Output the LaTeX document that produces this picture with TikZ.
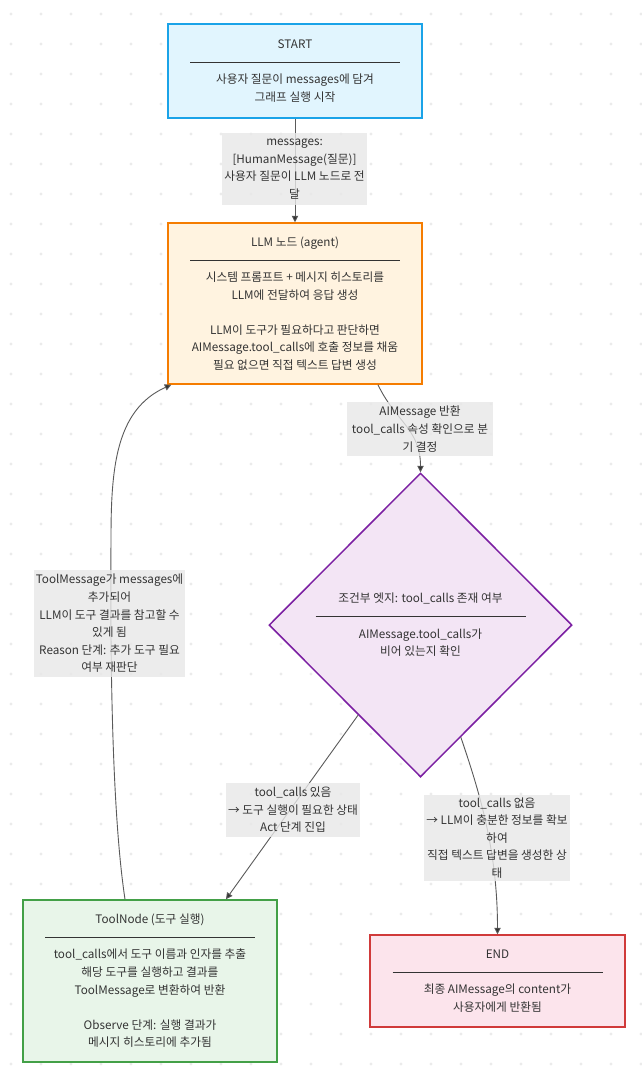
\documentclass[tikz,border=0pt]{standalone}
\usepackage{fontspec}
\setmainfont{Noto Sans CJK KR}
\usetikzlibrary{shapes.geometric,arrows.meta,calc}
\definecolor{txt}{HTML}{333333}
\definecolor{dotc}{HTML}{EBEBEB}
\definecolor{edgec}{HTML}{5A5A5A}
\definecolor{lblbg}{HTML}{E8E8E8}
\definecolor{startfill}{HTML}{E1F5FE}
\definecolor{startline}{HTML}{1AA3E8}
\definecolor{llmfill}{HTML}{FFF3E0}
\definecolor{llmline}{HTML}{F57C00}
\definecolor{diafill}{HTML}{F3E5F5}
\definecolor{dialine}{HTML}{7B1FA2}
\definecolor{toolfill}{HTML}{E8F5E9}
\definecolor{toolline}{HTML}{43A047}
\definecolor{endfill}{HTML}{FCE4EC}
\definecolor{endline}{HTML}{D03A3A}
\newcommand\divline{\rule[3.5pt]{210pt}{0.7pt}}
\tikzset{
  basefont/.style={font=\fontsize{11.7}{17.6}\selectfont},
  box/.style={basefont, draw, line width=1.5pt, align=center, text=txt, inner sep=0pt},
  lbl/.style={basefont, fill=lblbg, fill opacity=0.8, text opacity=1, align=center, inner sep=2pt, text=txt},
  conn/.style={draw=edgec, line width=0.9pt, -{Triangle[length=6.5pt,width=6.5pt,fill=txt]}},
}
\begin{document}
\begin{tikzpicture}[x=1pt,y=-1pt]
\useasboundingbox[fill=white] (0,0) rectangle (641,1082);
\foreach \i in {0,...,21}{\foreach \j in {0,...,35}{\fill[dotc] (11+30*\i,14+30*\j) circle (1.6pt);}}

\node[box, fill=startfill, draw=startline, minimum width=254pt, minimum height=94pt] (start) at (295,71)
  {START\\\divline\\사용자 질문이 messages에 담겨\\그래프 실행 시작};
\node[box, fill=llmfill, draw=llmline, minimum width=254pt, minimum height=161pt] (llm) at (295,303.5)
  {LLM 노드 (agent)\\\divline\\시스템 프롬프트 + 메시지 히스토리를\\LLM에 전달하여 응답 생성\\[17.6pt]LLM이 도구가 필요하다고 판단하면\\AIMessage.tool\_calls에 호출 정보를 채움\\필요 없으면 직접 텍스트 답변 생성};
\node[box, diamond, fill=diafill, draw=dialine, minimum width=303pt, minimum height=304pt, aspect=1] (dia) at (420.5,625)
  {조건부 엣지: tool\_calls 존재 여부\\\divline\\AIMessage.tool\_calls가\\비어 있는지 확인};
\node[box, fill=toolfill, draw=toolline, minimum width=254pt, minimum height=162pt] (tool) at (150,981)
  {ToolNode (도구 실행)\\\divline\\tool\_calls에서 도구 이름과 인자를 추출\\해당 도구를 실행하고 결과를\\ToolMessage로 변환하여 반환\\[17.6pt]Observe 단계: 실행 결과가\\메시지 히스토리에 추가됨};
\node[box, fill=endfill, draw=endline, minimum width=255pt, minimum height=92pt] (endn) at (497.5,981)
  {END\\\divline\\최종 AIMessage의 content가\\사용자에게 반환됨};

\draw[conn] (start.south) -- (llm.north);
\draw[conn] ([xshift=83pt]llm.south) .. controls +(17,36) and +(0,-43) .. (dia.north);
\draw[conn] ($(dia.south west)!0.18!(dia.south)$) -- ([xshift=76pt]tool.north);
\draw[conn] ($(dia.south)!0.53!(dia.south east)$) .. controls +(18,53) and +(0,-85) .. (endn.north);
\draw[conn] ([xshift=-25pt]tool.north) .. controls (113,820) and (110,680) .. (111,540)
  .. controls (111,470) and (115,410) .. ([xshift=4pt]llm.south west);

\node[lbl, minimum width=145pt, minimum height=72pt] (l1) at (294.5,169)
  {messages:\\{[}HumanMessage(질문){]}\\사용자 질문이 LLM 노드로 전\\달};
\node[lbl, minimum width=146pt, minimum height=54pt] (l2) at (420,429)
  {AIMessage 반환\\tool\_calls 속성 확인으로 분\\기 결정};
\node[lbl, minimum width=132pt, minimum height=54pt] (l3) at (293,810)
  {tool\_calls 있음\\→ 도구 실행이 필요한 상태\\Act 단계 진입};
\node[lbl, minimum width=146pt, minimum height=86pt] (l4) at (497,838)
  {tool\_calls 없음\\→ LLM이 충분한 정보를 확보\\하여\\직접 텍스트 답변을 생성한 상\\태};
\node[lbl, minimum width=145pt, minimum height=107pt] (l5) at (109.5,623.5)
  {ToolMessage가 messages에\\추가되어\\LLM이 도구 결과를 참고할 수\\있게 됨\\Reason 단계: 추가 도구 필요\\여부 재판단};
\end{tikzpicture}
\end{document}
